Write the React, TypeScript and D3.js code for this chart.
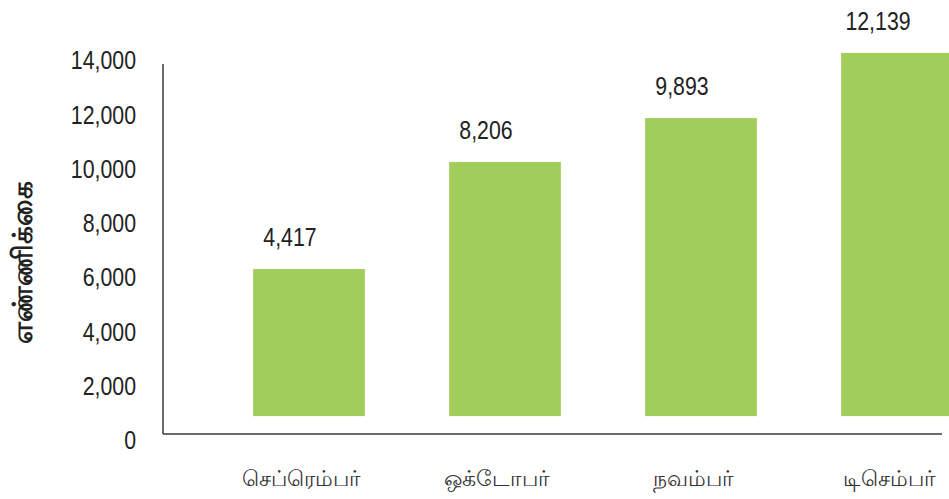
import * as React from "react";
import * as d3 from "d3";

// months (Tamil) and the values shown above each bar
const categories = ["செப்ரெம்பர்", "ஒக்டோபர்", "நவம்பர்", "டிசெம்பர்"];
const valueLabels = [4417, 8206, 9893, 12139];
const barTops = [6300, 10240, 11860, 14260];
const barBase = 880;
const yTicks = [0, 2000, 4000, 6000, 8000, 10000, 12000, 14000];
const yTitle = "எண்ணிக்கை";

const width = 949;
const height = 499;
const numFont = "'Liberation Sans', Arial, sans-serif";
// no narrow face installed, so squeeze the numbers horizontally
const squeeze = 0.82;

const NumText = ({ x, y, anchor, baseline, children }: any) => (
  <text
    transform={`translate(${x},${y}) scale(${squeeze},1)`}
    textAnchor={anchor}
    dominantBaseline={baseline}
    fontFamily={numFont}
    fontSize={26}
    fill="#222"
  >
    {children}
  </text>
);

const App: React.FunctionComponent = () => {
  const y = d3.scaleLinear().domain([0, 14000]).range([440, 60]);
  const x = d3
    .scaleBand<string>()
    .domain(categories)
    .range([211, 995])
    .paddingInner(0.43)
    .paddingOuter(0.215);
  const fmt = d3.format(",");

  const axisLeft = 163;
  const axisBottom = y(0) - 6;
  const axisTop = y(14000) + 4;

  return (
    <svg
      width={width}
      height={height}
      style={{ position: "absolute", left: 0, top: 0, background: "#fff" }}
    >
      {/* bars */}
      {categories.map((c, i) => (
        <rect
          key={c}
          x={x(c)}
          y={y(barTops[i])}
          width={x.bandwidth()}
          height={y(barBase) - y(barTops[i])}
          fill="#a1cd5b"
        />
      ))}

      {/* axes */}
      <line x1={axisLeft} x2={axisLeft} y1={axisTop} y2={axisBottom} stroke="#3a3a3a" strokeWidth={1.5} />
      <line x1={axisLeft} x2={942} y1={axisBottom} y2={axisBottom} stroke="#3a3a3a" strokeWidth={1.5} />

      {/* y tick labels */}
      {yTicks.map((t) => (
        <NumText key={t} x={136} y={y(t)} anchor="end" baseline="central">
          {fmt(t)}
        </NumText>
      ))}

      {/* value labels */}
      {categories.map((c, i) => (
        <NumText
          key={c}
          x={(x(c) ?? 0) + x.bandwidth() / 2 - 19}
          y={y(barTops[i]) - 23}
          anchor="middle"
        >
          {fmt(valueLabels[i])}
        </NumText>
      ))}

      {/* category labels */}
      {categories.map((c) => (
        <text
          key={c}
          x={(x(c) ?? 0) + x.bandwidth() / 2 - 8}
          y={486}
          textAnchor="middle"
          fontSize={22}
          fill="#333"
        >
          {c}
        </text>
      ))}

      {/* y axis title */}
      <text
        transform={`translate(32, 262) rotate(-90)`}
        textAnchor="middle"
        fontSize={28}
        fontWeight="bold"
        fill="#222"
      >
        {yTitle}
      </text>
    </svg>
  );
};

export default App;
